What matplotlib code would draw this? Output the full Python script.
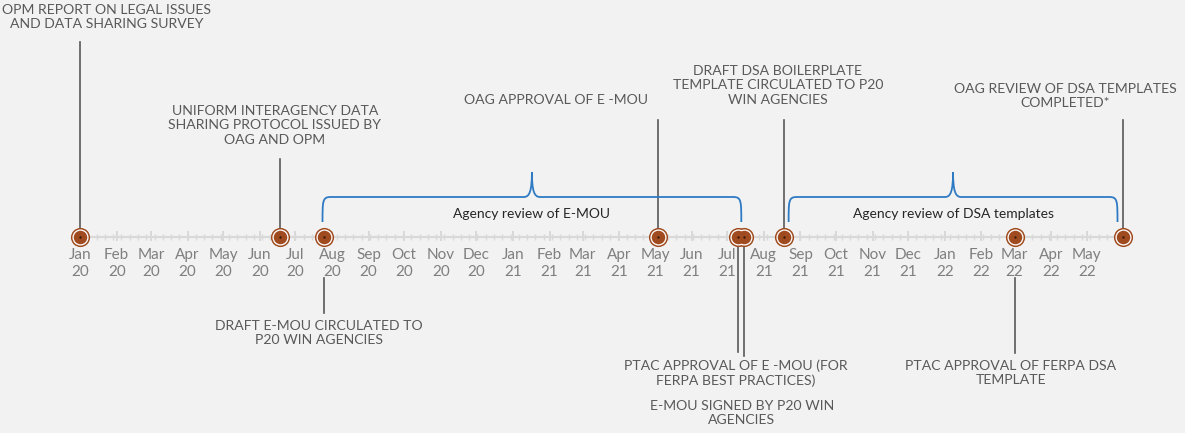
import datetime as dt

import matplotlib
matplotlib.use("Agg")
import matplotlib.dates as mdates
import matplotlib.pyplot as plt
import numpy as np
from matplotlib.patches import PathPatch
from matplotlib.path import Path

# --- data -------------------------------------------------------------
event_labels = [
    "OPM REPORT ON LEGAL ISSUES\nAND DATA SHARING SURVEY",
    "UNIFORM INTERAGENCY DATA\nSHARING PROTOCOL ISSUED BY\nOAG AND OPM",
    "DRAFT E-MOU CIRCULATED TO\nP20 WIN AGENCIES",
    "OAG APPROVAL OF E -MOU",
    "PTAC APPROVAL OF E -MOU (FOR\nFERPA BEST PRACTICES)",
    "E-MOU SIGNED BY P20 WIN\nAGENCIES",
    "DRAFT DSA BOILERPLATE\nTEMPLATE CIRCULATED TO P20\nWIN AGENCIES",
    "PTAC APPROVAL OF FERPA DSA\nTEMPLATE",
    "OAG REVIEW OF DSA TEMPLATES\nCOMPLETED*",
]
event_dates = [
    "2020-01-01", "2020-06-18", "2020-07-25", "2021-05-04", "2021-07-10",
    "2021-07-15", "2021-08-18", "2022-03-01", "2022-06-01",
]

span_labels = ["Agency review of E-MOU", "Agency review of DSA templates"]
span_starts = ["2020-07-24", "2021-08-22"]
span_ends = ["2021-07-13", "2022-05-27"]

month_starts = ["2020-01-01", "2022-05-01"]

# --- layout (pixel y, since axes spans whole figure) --------------------
W, H = 1185, 433
LINE_Y = 237
PX_PER_DAY = 1.183
# per event: (text x offset px, text center y of first line, stem top/bottom y, stem start y)
event_style = [
    (27, 12, 42, LINE_Y),
    (-5, 113, 159, LINE_Y),
    (-5, 328, 313, 278),
    (-102, 102, 120, LINE_Y),
    (-2, 367, 352, LINE_Y),
    (-2, 408, 356, LINE_Y),
    (-6, 73, 120, LINE_Y),
    (-4, 368, 353, 278),
    (-58, 91, 120, LINE_Y),
]

BG = "#F2F2F2"
TXT = "#595959"
STEM = "#595959"
AXIS = "#D9D9D9"
BLUE = "#2E7BC4"
BROWN = "#A04B1F"

plt.rcParams["font.family"] = ["Lato", "DejaVu Sans"]

dates = [mdates.date2num(dt.date.fromisoformat(d)) for d in event_dates]
d0 = mdates.date2num(dt.date(2020, 1, 1))

fig = plt.figure(figsize=(W / 100, H / 100), dpi=100, facecolor=BG)
ax = fig.add_axes([0, 0, 1, 1])
ax.set_facecolor(BG)
left = d0 - 80 / PX_PER_DAY
ax.set_xlim(left, left + W / PX_PER_DAY)
ax.set_ylim(H, 0)
ax.axis("off")

# timeline line and ticks
ax.plot([dates[0], dates[-1]], [LINE_Y, LINE_Y], color=AXIS, lw=1.6, zorder=1)
months = mdates.date2num(
    np.arange(np.datetime64(month_starts[0], "M"),
              np.datetime64(month_starts[1], "M") + 2).astype("datetime64[D]").astype(object)
)
weeks = np.arange(dates[0], dates[-1], 7.0)
ax.vlines(weeks, LINE_Y - 3, LINE_Y + 3, color=AXIS, lw=1.0, zorder=1)
ax.vlines(months[months <= dates[-1]], LINE_Y - 6, LINE_Y + 4, color=AXIS, lw=1.4, zorder=1)

for m in months[:-1]:
    d = mdates.num2date(m)
    ax.text(m, 255, d.strftime("%b"), ha="center", va="center", fontsize=11, color="#7F7F7F")
    ax.text(m, 272, d.strftime("%y"), ha="center", va="center", fontsize=11, color="#7F7F7F")

# stems and labels
for x, lab, (dx, ty, tip, start) in zip(dates, event_labels, event_style):
    ax.plot([x, x], [start, tip], color=STEM, lw=1.2, zorder=2)
    tx = x + dx / PX_PER_DAY
    ax.text(tx, ty - 8, lab, ha="center", va="top", fontsize=10.1, color=TXT, linespacing=1.24,
            multialignment="center")

# markers
ax.scatter(dates, [LINE_Y] * len(dates), s=190, color=BROWN, zorder=3, lw=0)
ax.scatter(dates, [LINE_Y] * len(dates), s=135, color="white", zorder=4, lw=0)
ax.scatter(dates, [LINE_Y] * len(dates), s=95, color=BROWN, zorder=5, lw=0)
ax.scatter(dates, [LINE_Y] * len(dates), s=3, color="#3A1A0A", zorder=6, lw=0)


# braces
def brace(x0, x1, y_tip=222, y_bar=197, y_peak=172):
    k = 8 / PX_PER_DAY
    xc = (x0 + x1) / 2
    verts = [
        (x0, y_tip), (x0, y_bar + 4), (x0, y_bar), (x0 + k, y_bar),
        (xc - k, y_bar),
        (xc - 0.3 * k, y_bar), (xc, y_bar - 6), (xc, y_peak),
        (xc, y_bar - 6), (xc + 0.3 * k, y_bar), (xc + k, y_bar),
        (x1 - k, y_bar),
        (x1, y_bar), (x1, y_bar + 4), (x1, y_tip),
    ]
    codes = [Path.MOVETO, Path.CURVE4, Path.CURVE4, Path.CURVE4, Path.LINETO,
             Path.CURVE4, Path.CURVE4, Path.CURVE4,
             Path.CURVE4, Path.CURVE4, Path.CURVE4, Path.LINETO,
             Path.CURVE4, Path.CURVE4, Path.CURVE4]
    ax.add_patch(PathPatch(Path(verts, codes), fc="none", ec=BLUE, lw=1.3, zorder=2))
    return xc


for lab, s, e in zip(span_labels, span_starts, span_ends):
    xs = mdates.date2num(dt.date.fromisoformat(s))
    xe = mdates.date2num(dt.date.fromisoformat(e))
    xc = brace(xs, xe)
    ax.text(xc, 214, lab, ha="center", va="center", fontsize=10, color="#262626")

fig.savefig("out.png", dpi=100, facecolor=BG)
